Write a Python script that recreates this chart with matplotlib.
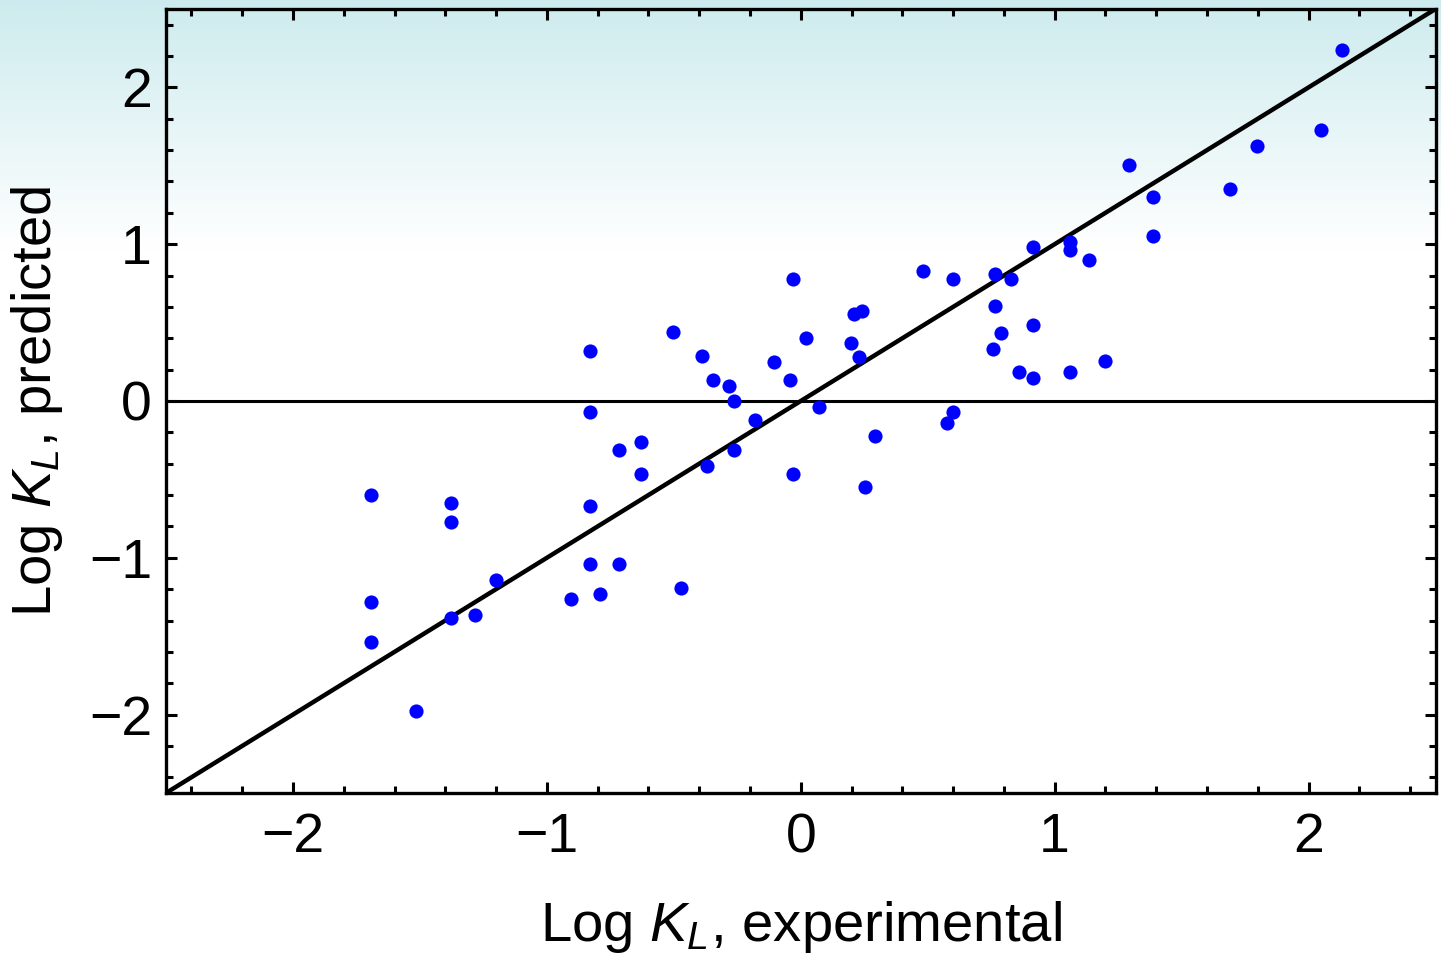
import numpy as np
import matplotlib
matplotlib.use("Agg")
import matplotlib.pyplot as plt
from matplotlib.ticker import MultipleLocator

plt.rcParams['font.family'] = ['Liberation Sans', 'DejaVu Sans']
plt.rcParams['mathtext.fontset'] = 'custom'
plt.rcParams['mathtext.rm'] = 'Liberation Sans'
plt.rcParams['mathtext.it'] = 'Liberation Sans:italic'

# ---- data ----
log_kl_experimental = [
    -1.691, -1.691, -1.691, -1.514, -1.376, -1.376, -1.376, -1.283, -1.199, -0.905,
    -0.831, -0.831, -0.831, -0.831, -0.789, -0.715, -0.715, -0.631, -0.631, -0.505,
    -0.473, -0.389, -0.347, -0.369, -0.284, -0.263, -0.263, -0.179, -0.106, -0.043,
    -0.032, -0.032, 0.020, 0.073, 0.199, 0.210, 0.241, 0.231, 0.252, 0.294,
    0.483, 0.577, 0.599, 0.599, 0.756, 0.767, 0.767, 0.788, 0.830, 0.861,
    0.914, 0.914, 0.914, 1.061, 1.061, 1.061, 1.135, 1.198, 1.292, 1.387,
    1.387, 1.692, 1.797, 2.049, 2.133,
]
log_kl_predicted = [
    -0.602, -1.279, -1.534, -1.976, -0.653, -0.772, -1.381, -1.366, -1.143, -1.262,
    0.317, -0.073, -0.668, -1.041, -1.228, -1.041, -0.311, -0.260, -0.464, 0.438,
    -1.194, 0.285, 0.131, -0.413, 0.097, -0.003, -0.311, -0.124, 0.250, 0.131,
    0.776, -0.464, 0.404, -0.039, 0.368, 0.555, 0.572, 0.283, -0.549, -0.226,
    0.829, -0.141, -0.073, 0.776, 0.334, 0.812, 0.606, 0.436, 0.776, 0.182,
    0.982, 0.487, 0.148, 1.016, 0.965, 0.183, 0.897, 0.252, 1.508, 1.304,
    1.050, 1.355, 1.629, 1.731, 2.239,
]
axis_range = [-2.5, 2.5]
major_ticks = [-2, -1, 0, 1, 2]

W, H = 1441, 957
fig = plt.figure(figsize=(W / 100, H / 100), dpi=100)

# background gradient over the whole figure
bg = fig.add_axes([0, 0, 1, 1], zorder=-10)
bg.axis('off')
n = 512
t = np.linspace(0, 1, n)  # 0 at top, 1 at bottom
frac = np.clip(t / 0.26, 0, 1)
top = np.array([205, 235, 238]) / 255.0
white = np.array([1.0, 1.0, 1.0])
grad = top[None, :] * (1 - frac[:, None]) + white[None, :] * frac[:, None]
img = np.repeat(grad[:, None, :], 2, axis=1)
bg.imshow(img, aspect='auto', extent=[0, 1, 0, 1], origin='upper', interpolation='bilinear')
bg.set_xlim(0, 1)
bg.set_ylim(0, 1)

ax = fig.add_axes([166 / W, 1 - 793 / H, (1435.5 - 166) / W, (793 - 9) / H])
ax.set_facecolor('none')

ax.axhline(0, color='black', lw=2.2, zorder=2)
ax.plot(axis_range, axis_range, color='black', lw=3.2, zorder=3, solid_capstyle='butt')
ax.plot(log_kl_experimental, log_kl_predicted, 'o', color='#0000ff', ms=10.2,
        markeredgewidth=0, zorder=4, clip_on=False)

ax.set_xlim(axis_range)
ax.set_ylim(axis_range)
ax.set_xticks(major_ticks)
ax.set_yticks(major_ticks)
ax.xaxis.set_minor_locator(MultipleLocator(0.2))
ax.yaxis.set_minor_locator(MultipleLocator(0.2))

for s in ax.spines.values():
    s.set_linewidth(2.4)
    s.set_zorder(5)

ax.tick_params(which='both', direction='in', top=True, right=True, width=2.2)
ax.tick_params(which='major', length=8, labelsize=40)
ax.tick_params(which='minor', length=5)
ax.tick_params(axis='x', which='major', pad=14)
ax.tick_params(axis='y', which='major', pad=10)

ax.set_xlabel(r'Log $K_L$, experimental', fontsize=40.5, labelpad=25)
ax.set_ylabel(r'Log $K_L$, predicted', fontsize=40.5, labelpad=17)

fig.savefig('out.png', dpi=100)
